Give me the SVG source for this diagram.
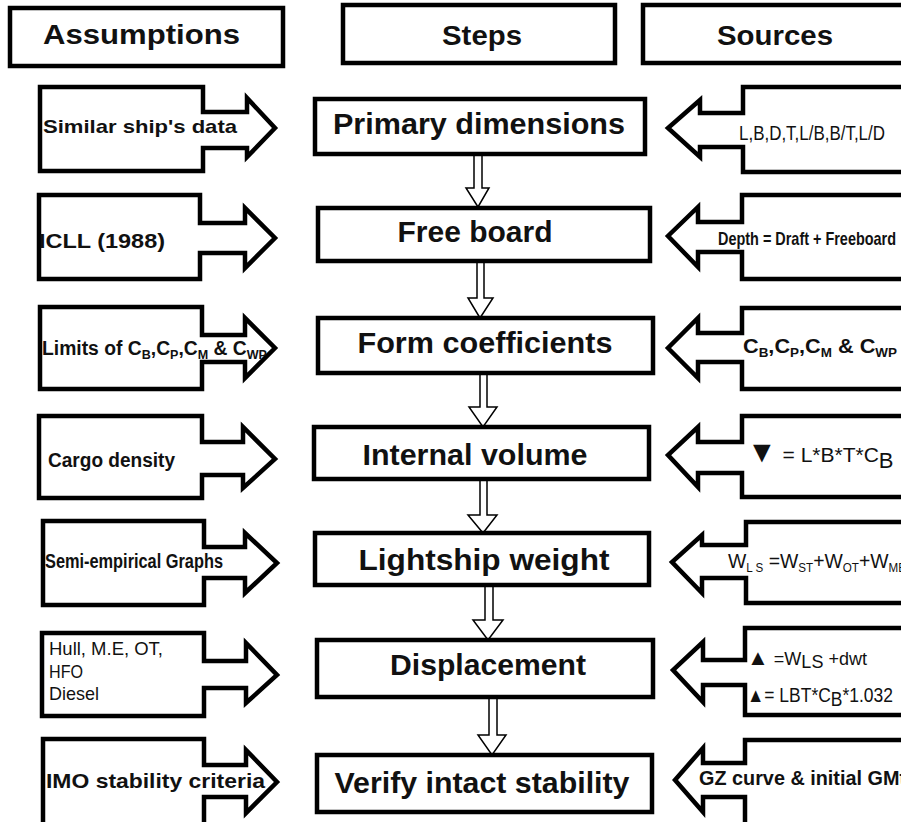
<svg xmlns="http://www.w3.org/2000/svg" width="901" height="822" viewBox="0 0 901 822">
<style>
.box{fill:#fff;stroke:#000;stroke-width:4.5;stroke-linejoin:miter}
.dn{fill:#fff;stroke:#000;stroke-width:1.5}
text{font-family:"Liberation Sans",Arial,sans-serif;fill:#111}
.hd{font-size:28px;font-weight:bold}
.st{font-size:30px;font-weight:bold;text-anchor:middle}
.b{font-weight:bold}
</style>
<rect width="901" height="822" fill="#fff"/>
<g id="headers">
<g id="h-assumptions"><rect class="box" x="10" y="8" width="273" height="58"/><text class="hd" x="43" y="44" textLength="197" lengthAdjust="spacingAndGlyphs">Assumptions</text></g>
<g id="h-steps"><rect class="box" x="343" y="5" width="272" height="58"/><text class="hd" x="442" y="45" textLength="80" lengthAdjust="spacingAndGlyphs">Steps</text></g>
<g id="h-sources"><rect class="box" x="643" y="5" width="270" height="58"/><text class="hd" x="717" y="45" textLength="116" lengthAdjust="spacingAndGlyphs">Sources</text></g>
</g>
<g id="connectors">
<path class="dn" d="M474,154 V188 H466 L478,207 L489,188 H482 V154"/>
<path class="dn" d="M477,261 V298 H468 L480,318 L493,298 H484 V261"/>
<path class="dn" d="M480,373 V407 H469 L483,427 L497,407 H487 V373"/>
<path class="dn" d="M480,479 V515 H468 L483,533 L497,515 H487 V479"/>
<path class="dn" d="M485,585 V620 H473 L488,640 L503,620 H493 V585"/>
<path class="dn" d="M489,697 V735 H478 L492,755 L506,735 H497 V697"/>
</g>
<g id="step1"><rect class="box" x="315" y="99" width="330" height="55"/><text class="st" x="479" y="134" textLength="292" lengthAdjust="spacingAndGlyphs">Primary dimensions</text></g>
<g id="step2"><rect class="box" x="318" y="208" width="332" height="53"/><text class="st" x="475" y="242" textLength="155" lengthAdjust="spacingAndGlyphs">Free board</text></g>
<g id="step3"><rect class="box" x="318" y="318" width="335" height="55"/><text class="st" x="485" y="353" textLength="255" lengthAdjust="spacingAndGlyphs">Form coefficients</text></g>
<g id="step4"><rect class="box" x="314" y="427" width="335" height="52"/><text class="st" x="475" y="465" textLength="225" lengthAdjust="spacingAndGlyphs">Internal volume</text></g>
<g id="step5"><rect class="box" x="315" y="533" width="334" height="52"/><text class="st" x="484" y="570" textLength="251" lengthAdjust="spacingAndGlyphs">Lightship weight</text></g>
<g id="step6"><rect class="box" x="317" y="640" width="336" height="57"/><text class="st" x="488" y="675" textLength="196" lengthAdjust="spacingAndGlyphs">Displacement</text></g>
<g id="step7"><rect class="box" x="317" y="755" width="335" height="57"/><text class="st" x="482" y="793" textLength="295" lengthAdjust="spacingAndGlyphs">Verify intact stability</text></g>

<g id="a1"><path class="box" d="M40,87 H203 V112 H247 V98 L275,128 L247,157 V148 H203 V171 H40 Z"/><text class="b" x="43" y="133" font-size="19" textLength="194" lengthAdjust="spacingAndGlyphs">Similar ship's data</text></g>
<g id="a2"><path class="box" d="M39,195 H200 V223 H245 V208 L275,238 L245,268 V253 H200 V279 H39 Z"/><text class="b" x="39" y="248" font-size="21" textLength="126" lengthAdjust="spacingAndGlyphs">ICLL (1988)</text></g>
<g id="a3"><path class="box" d="M40,307 H202 V335 H245 V318 L275,348 L245,378 V362 H202 V389 H40 Z"/><text class="b" x="42" y="355" font-size="20" textLength="225" lengthAdjust="spacingAndGlyphs">Limits of C<tspan font-size="13" dy="4">B</tspan><tspan dy="-4">,C</tspan><tspan font-size="13" dy="4">P</tspan><tspan dy="-4">,C</tspan><tspan font-size="13" dy="4">M</tspan><tspan dy="-4"> &amp; C</tspan><tspan font-size="13" dy="4">WP</tspan></text></g>
<g id="a4"><path class="box" d="M39,416 H202 V442 H243 V427 L275,459 L243,488 V475 H202 V498 H39 Z"/><text class="b" x="48" y="467" font-size="20" textLength="127" lengthAdjust="spacingAndGlyphs">Cargo density</text></g>
<g id="a5"><path class="box" d="M43,521 H204 V547 H245 V533 L277,563 L245,593 V578 H204 V605 H43 Z"/><text class="b" x="45" y="568" font-size="20" textLength="178" lengthAdjust="spacingAndGlyphs">Semi-empirical Graphs</text></g>
<g id="a6"><path class="box" d="M42,633 H204 V661 H246 V643 L277,675 L246,703 V688 H204 V716 H42 Z"/><text x="49" y="655" font-size="19" textLength="114" lengthAdjust="spacingAndGlyphs">Hull, M.E, OT,</text><text x="49" y="678" font-size="19" textLength="34" lengthAdjust="spacingAndGlyphs">HFO</text><text x="49" y="700" font-size="19" textLength="50" lengthAdjust="spacingAndGlyphs">Diesel</text></g>
<g id="a7"><path class="box" d="M43,739 H204 V765 H246 V750 L277,782 L246,813 V797 H204 V830 H43 Z"/><text class="b" x="46" y="788" font-size="21" textLength="219" lengthAdjust="spacingAndGlyphs">IMO stability criteria</text></g>

<g id="s1"><path class="box" d="M915,87 H743 V113 H700 V100 L668,128 L700,157 V147 H743 V172 H915 Z"/><text x="739" y="140" font-size="21" textLength="146" lengthAdjust="spacingAndGlyphs">L,B,D,T,L/B,B/T,L/D</text></g>
<g id="s2"><path class="box" d="M915,195 H742 V222 H698 V207 L668,236 L698,267 V252 H742 V279 H915 Z"/><text class="b" x="718" y="245" font-size="19" textLength="178" lengthAdjust="spacingAndGlyphs">Depth = Draft + Freeboard</text></g>
<g id="s3"><path class="box" d="M915,308 H742 V333 H698 V318 L668,348 L698,378 V362 H742 V389 H915 Z"/><text class="b" x="743" y="353" font-size="21" textLength="154" lengthAdjust="spacingAndGlyphs">C<tspan font-size="13" dy="4">B</tspan><tspan dy="-4">,C</tspan><tspan font-size="13" dy="4">P</tspan><tspan dy="-4">,C</tspan><tspan font-size="13" dy="4">M</tspan><tspan dy="-4"> &amp; C</tspan><tspan font-size="13" dy="4">WP</tspan></text></g>
<g id="s4"><path class="box" d="M915,416 H742 V442 H698 V427 L668,455 L698,487 V473 H742 V497 H915 Z"/><text x="747" y="462" font-size="21"><tspan font-size="30">▼</tspan> = L*B*T*C<tspan font-size="22" dy="6">B</tspan></text></g>
<g id="s5"><path class="box" d="M915,522 H746 V545 H702 V535 L672,562 L702,593 V578 H746 V603 H915 Z"/><text x="728" y="568" font-size="20" textLength="178" lengthAdjust="spacingAndGlyphs">W<tspan font-size="12" dy="4">L S</tspan><tspan dy="-4"> =W</tspan><tspan font-size="12" dy="4">ST</tspan><tspan dy="-4">+W</tspan><tspan font-size="12" dy="4">OT</tspan><tspan dy="-4">+W</tspan><tspan font-size="12" dy="4">ME</tspan></text></g>
<g id="s6"><path class="box" d="M915,628 H745 V660 H703 V642 L673,670 L703,702 V685 H745 V715 H915 Z"/><text x="747" y="665" font-size="18" textLength="120" lengthAdjust="spacingAndGlyphs"><tspan font-size="22">▲</tspan> =W<tspan dy="3">LS</tspan><tspan dy="-3"> +dwt</tspan></text><text x="747" y="702" font-size="20" textLength="146" lengthAdjust="spacingAndGlyphs"><tspan font-size="20">▲</tspan>= LBT*C<tspan dy="4">B</tspan><tspan dy="-4">*1.032</tspan></text></g>
<g id="s7"><path class="box" d="M915,740 H745 V763 H703 V748 L675,780 L703,812 V797 H745 V830 H915 Z"/><text class="b" x="699" y="785" font-size="21" textLength="207" lengthAdjust="spacingAndGlyphs">GZ curve &amp; initial GMt</text></g>
</svg>
